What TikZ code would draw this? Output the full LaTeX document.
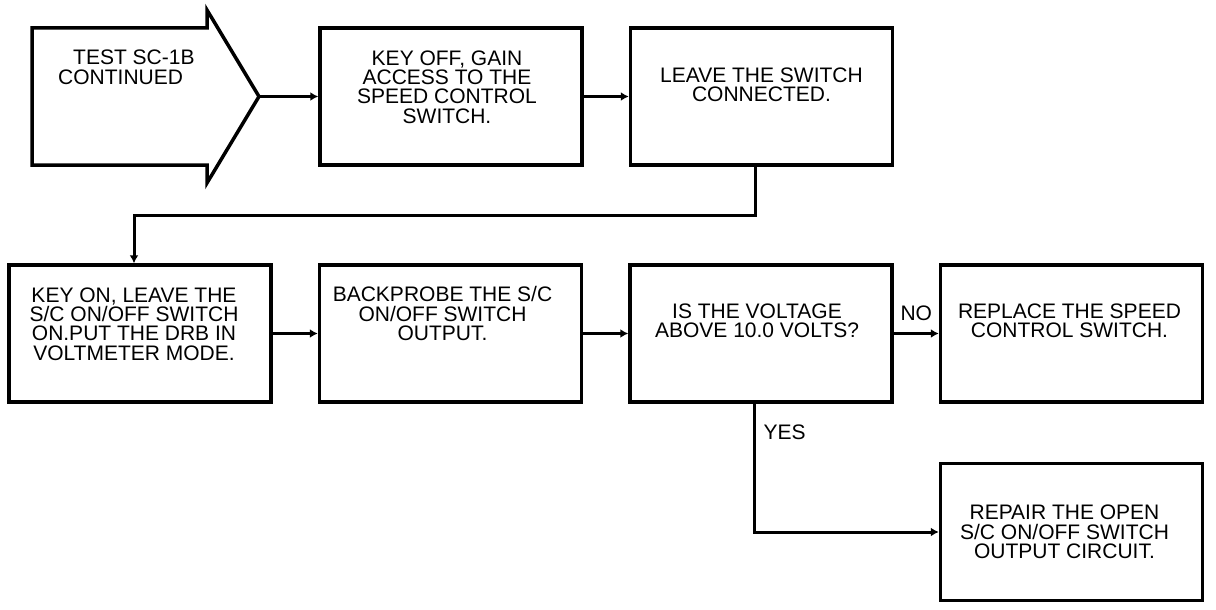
\documentclass[tikz,border=0pt]{standalone}
\usepackage{fontspec}
\setmainfont{Liberation Sans}
\usepackage{tikz}
\usetikzlibrary{arrows.meta,positioning}
\definecolor{flowink}{HTML}{000000}

\begin{document}
\begin{tikzpicture}[
    x=1pt, y=1pt,
    node distance=58pt and 45pt,
    box/.style={draw=flowink, line width=3.5pt, minimum width=262pt, minimum height=137pt, inner sep=0pt},
    txt/.style={font=\fontsize{21}{19.4}\selectfont, align=center, inner sep=0pt, text=flowink},
    answer/.style={txt},
    arrow/.style={-{Latex[length=8pt,width=9pt]}, line width=3pt, draw=flowink}
  ]
    \useasboundingbox (0,0) rectangle (1216,-610);

    % entry arrow
    \coordinate (tip) at (259,-96.5);
    \draw[flowink, line width=3.5pt] (32,-28) -- (207,-28) -- (207,-10) -- (tip)
      -- (207,-183) -- (207,-165) -- (32,-165) -- cycle;
    \node[txt, align=left, anchor=north west] (start) at (58,-50) {\hspace{15pt}TEST SC-1B\\CONTINUED};

    \node[box] (key) at (451,-96.5) {};
    \node[box, right=of key] (leave) {};
    \node[box] (keyon) at (140,-333.5) {};
    \node[box, right=of keyon] (probe) {};
    \node[box, right=of probe] (voltage) {};
    \node[box, right=of voltage] (replace) {};
    \node[box, below=of replace] (repair) {};

    \node[txt, anchor=north, xshift=-4pt] (keytxt) at ([yshift=-24pt]key.north) {KEY OFF, GAIN\\ACCESS TO THE\\SPEED CONTROL\\SWITCH.};
    \node[txt, anchor=north] (leavetxt) at ([yshift=-41pt]leave.north) {LEAVE THE SWITCH\\CONNECTED.};
    \node[txt, anchor=north, xshift=-6pt] (keyontxt) at ([yshift=-24pt]keyon.north) {KEY ON, LEAVE THE\\S/C ON/OFF SWITCH\\ON.PUT THE DRB IN\\VOLTMETER MODE.};
    \node[txt, anchor=north, xshift=-8pt] (probetxt) at ([yshift=-23pt]probe.north) {BACKPROBE THE S/C\\ON/OFF SWITCH\\OUTPUT.};
    \node[txt, anchor=north, xshift=-4pt] (voltagetxt) at ([yshift=-40pt]voltage.north) {IS THE VOLTAGE\\ABOVE 10.0 VOLTS?};
    \node[txt, anchor=north, xshift=-2pt] (replacetxt) at ([yshift=-40pt]replace.north) {REPLACE THE SPEED\\CONTROL SWITCH.};
    \node[txt, anchor=north, xshift=-7pt] (repairtxt) at ([yshift=-43pt]repair.north) {REPAIR THE OPEN\\S/C ON/OFF SWITCH\\OUTPUT CIRCUIT.};

    \draw[arrow, line width=2pt] (tip) -- (key);
    \draw[arrow, line width=2pt] (key) -- (leave);
    \draw[arrow] ([xshift=-6pt]leave.south) -- ++(0,-49) -| ([xshift=-6pt]keyon.north);
    \draw[arrow] (keyon) -- (probe);
    \draw[arrow] (probe) -- (voltage);
    \draw[arrow] (voltage) -- node[answer, above=11pt] {NO} (replace);
    \draw[arrow] ([xshift=-7pt]voltage.south) |- node[answer, pos=0.11, right=8pt] {YES} (repair.west);
  \end{tikzpicture}
\end{document}
